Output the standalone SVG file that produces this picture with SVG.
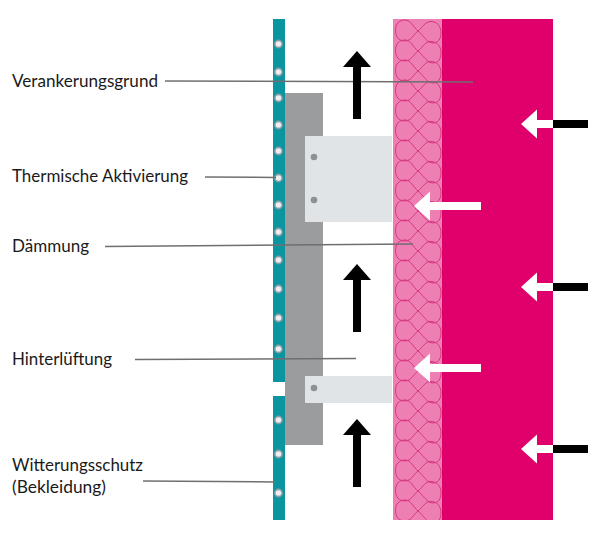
<svg xmlns="http://www.w3.org/2000/svg" width="597" height="533" viewBox="0 0 597 533">
<style>
.lead{stroke:#6f6f6f;stroke-width:1.5;fill:none}
.lbl{font-family:Lato,"Liberation Sans",sans-serif;font-size:17px;fill:#1a1a1a}
.bolt{fill:#eeeef4;stroke:#8f9ea2;stroke-width:1.6}
.pin{fill:#8c9194}
.bracket{fill:#e0e4e6}
.teal{fill:#0b95a0}
.k{fill:#000}
.w{fill:#fff}
.coil{fill:none;stroke:#d83580;stroke-width:1}
</style>
<defs>
<clipPath id="insClip"><rect x="393" y="19" width="49" height="501"/></clipPath>
<path id="coil" d="M418 0C423 4 427 12 433 12C438 12 441 8 441 2C441 -5 437 -9.500 431 -9.500C425 -9.500 423 -4 418 0C413 4 411 10 405 10C399 10 395.500 6 395.500 -0.500C395.500 -7 399 -11 405 -11C411 -11 413 -4 418 0Z"/>
<path id="arrowUp" d="M357 0L371 16H361V68H353V16H343Z"/>
<path id="arrowLeftShort" d="M0 0L16 -14.500V-4H32V4H16V14.500Z"/>
<path id="arrowLeftLong" d="M0 0L16 -14.500V-4H67V4H16V14.500Z"/>
</defs>
<rect width="597" height="533" fill="#fff"/>
<g id="verankerungsgrund-wand"><rect x="442" y="19" width="111" height="501" fill="#e0006b"/></g>
<g id="daemmung-schicht">
<rect x="393" y="19" width="49" height="501" fill="#ee7fb3"/>
<g clip-path="url(#insClip)">
<use class="coil" href="#coil" y="31"/><use class="coil" href="#coil" y="51"/><use class="coil" href="#coil" y="71"/><use class="coil" href="#coil" y="91"/><use class="coil" href="#coil" y="111"/><use class="coil" href="#coil" y="131"/><use class="coil" href="#coil" y="151"/><use class="coil" href="#coil" y="171"/><use class="coil" href="#coil" y="191"/><use class="coil" href="#coil" y="211"/><use class="coil" href="#coil" y="231"/><use class="coil" href="#coil" y="251"/><use class="coil" href="#coil" y="271"/><use class="coil" href="#coil" y="291"/><use class="coil" href="#coil" y="311"/><use class="coil" href="#coil" y="331"/><use class="coil" href="#coil" y="351"/><use class="coil" href="#coil" y="371"/><use class="coil" href="#coil" y="391"/><use class="coil" href="#coil" y="411"/><use class="coil" href="#coil" y="431"/><use class="coil" href="#coil" y="451"/><use class="coil" href="#coil" y="471"/><use class="coil" href="#coil" y="491"/><use class="coil" href="#coil" y="511"/>
</g>
</g>
<g id="unterkonstruktion">
<rect x="285" y="93" width="38" height="352" fill="#9a9c9e"/>
<rect class="bracket" x="305" y="136" width="87" height="86"/>
<rect class="bracket" x="305" y="376" width="87" height="27"/>
<circle class="pin" cx="314" cy="157" r="3.300"/>
<circle class="pin" cx="314" cy="200" r="3.300"/>
<circle class="pin" cx="314" cy="388" r="3.300"/>
</g>
<g id="witterungsschutz-bekleidung">
<rect class="teal" x="273" y="19" width="12" height="363"/>
<rect class="teal" x="273" y="396" width="12" height="124"/>
<circle class="bolt" cx="278.500" cy="44" r="3.600"/>
<circle class="bolt" cx="278.500" cy="72" r="3.600"/>
<circle class="bolt" cx="278.500" cy="98" r="3.600"/>
<circle class="bolt" cx="278.500" cy="125" r="3.600"/>
<circle class="bolt" cx="278.500" cy="151" r="3.600"/>
<circle class="bolt" cx="278.500" cy="178" r="3.600"/>
<circle class="bolt" cx="278.500" cy="205" r="3.600"/>
<circle class="bolt" cx="278.500" cy="232" r="3.600"/>
<circle class="bolt" cx="278.500" cy="260" r="3.600"/>
<circle class="bolt" cx="278.500" cy="289" r="3.600"/>
<circle class="bolt" cx="278.500" cy="318" r="3.600"/>
<circle class="bolt" cx="278.500" cy="349" r="3.600"/>
<circle class="bolt" cx="278.500" cy="420" r="3.600"/>
<circle class="bolt" cx="278.500" cy="454" r="3.600"/>
<circle class="bolt" cx="278.500" cy="493" r="3.600"/>
</g>
<g id="connectors">
<line class="lead" x1="165" y1="81" x2="473" y2="82"/>
<line class="lead" x1="205" y1="177" x2="276" y2="177.500"/>
<line class="lead" x1="105" y1="246.500" x2="413" y2="244"/>
<line class="lead" x1="135" y1="359.500" x2="356" y2="358.500"/>
<line class="lead" x1="143" y1="481" x2="275" y2="482"/>
</g>
<g id="luftstrom-pfeile">
<use class="k" href="#arrowUp" y="51"/>
<use class="k" href="#arrowUp" y="264" />
<use class="k" href="#arrowUp" y="419"/>
</g>
<g id="waerme-pfeile">
<use class="w" href="#arrowLeftShort" x="521" y="124"/>
<rect class="k" x="553" y="120" width="35" height="8"/>
<use class="w" href="#arrowLeftShort" x="521" y="287"/>
<rect class="k" x="553" y="283" width="35" height="8"/>
<use class="w" href="#arrowLeftShort" x="521" y="449"/>
<rect class="k" x="553" y="445" width="35" height="8"/>
<use class="w" href="#arrowLeftLong" x="414" y="206"/>
<use class="w" href="#arrowLeftLong" x="414" y="368"/>
</g>
<g id="label-verankerungsgrund"><text class="lbl" x="12" y="87" textLength="146" lengthAdjust="spacingAndGlyphs">Verankerungsgrund</text></g>
<g id="label-thermische-aktivierung"><text class="lbl" x="12" y="182" textLength="176" lengthAdjust="spacingAndGlyphs">Thermische Aktivierung</text></g>
<g id="label-daemmung"><text class="lbl" x="12" y="252" textLength="77" lengthAdjust="spacingAndGlyphs">Dämmung</text></g>
<g id="label-hinterlueftung"><text class="lbl" x="12" y="365" textLength="100" lengthAdjust="spacingAndGlyphs">Hinterlüftung</text></g>
<g id="label-witterungsschutz"><text class="lbl" x="12" y="471" textLength="131" lengthAdjust="spacingAndGlyphs">Witterungsschutz</text><text class="lbl" x="12" y="493" textLength="94" lengthAdjust="spacingAndGlyphs">(Bekleidung)</text></g>
</svg>
